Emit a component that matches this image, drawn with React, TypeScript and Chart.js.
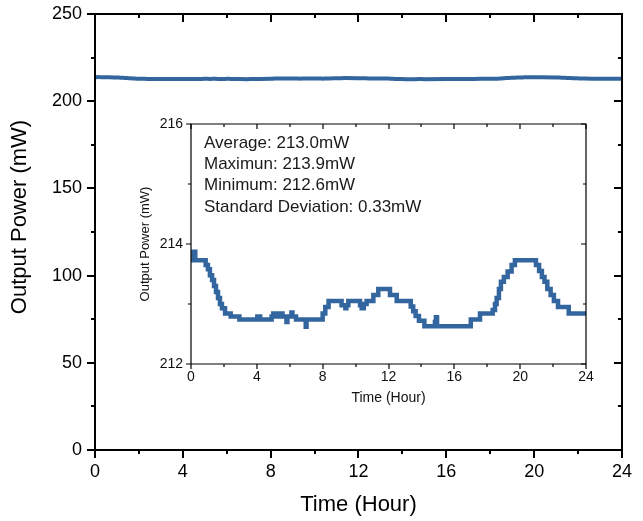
import React, { useEffect, useRef } from 'react';
import { Chart, registerables } from 'chart.js';

Chart.register(...registerables);

// Time (hours) at which each reading level starts
const hours = [
  0, 0.14, 0.26, 0.89, 1.03, 1.15, 1.28, 1.40, 1.52, 1.64,
  1.76, 1.88, 2.07, 2.41, 2.94, 4.03, 4.20, 4.90, 5.00, 5.25,
  5.50, 5.56, 5.80, 5.86, 6.10, 6.16, 6.38, 6.97, 7.02, 8.00,
  8.16, 8.36, 9.15, 9.38, 9.44, 9.56, 10.27, 10.37, 10.50, 10.67,
  11.08, 11.38, 12.09, 12.50, 13.35, 13.50, 13.65, 13.85, 14.18, 14.82,
  14.88, 14.95, 17.00, 17.56, 18.33, 18.47, 18.57, 18.71, 18.83, 19.01,
  19.24, 19.48, 19.68, 20.96, 21.15, 21.32, 21.48, 21.65, 21.85, 22.05,
  22.30, 22.95, 24,
];
// Output power (mW) for each of the hours above
const power = [
  213.73, 213.87, 213.73, 213.65, 213.58, 213.48, 213.40, 213.30, 213.20, 213.10,
  213.00, 212.93, 212.84, 212.79, 212.74, 212.79, 212.74, 212.79, 212.84, 212.79,
  212.84, 212.79, 212.70, 212.79, 212.86, 212.79, 212.74, 212.62, 212.74, 212.84,
  212.95, 213.05, 212.98, 212.93, 212.98, 213.05, 212.98, 212.93, 213.00, 213.05,
  213.15, 213.25, 213.15, 213.05, 212.96, 212.88, 212.80, 212.72, 212.63, 212.70,
  212.78, 212.63, 212.74, 212.84, 212.90, 213.00, 213.10, 213.25, 213.37, 213.45,
  213.54, 213.65, 213.73, 213.65, 213.55, 213.45, 213.37, 213.25, 213.15, 213.05,
  212.95, 212.84, 212.84,
];

const statLines = [
  'Average: 213.0mW',
  'Maximun: 213.9mW',
  'Minimum: 212.6mW',
  'Standard Deviation: 0.33mW',
];

const xTitle = 'Time (Hour)';
const yTitle = 'Output Power (mW)';

const FONT = "'Liberation Sans', Arial, sans-serif";
const LINE_COLOR = '#33659f';

const framePlugin = {
  id: 'frameTicks',
  afterDraw(chart: any, _args: any, opts: any) {
    const { ctx, chartArea: a, scales } = chart;
    const xs = scales.x;
    const ys = scales.y;
    ctx.save();
    ctx.strokeStyle = '#000';
    ctx.lineWidth = opts.lw;
    ctx.beginPath();
    ctx.rect(a.left, a.top, a.right - a.left, a.bottom - a.top);
    ctx.stroke();
    const seg = (x1: number, y1: number, x2: number, y2: number) => {
      ctx.moveTo(x1, y1);
      ctx.lineTo(x2, y2);
    };
    ctx.beginPath();
    for (let v = xs.min; v <= xs.max + 1e-9; v += opts.xMinor) {
      const major = Math.abs(v / opts.xMajor - Math.round(v / opts.xMajor)) < 1e-6;
      const len = major ? opts.major : opts.minor;
      const px = Math.round(xs.getPixelForValue(v));
      seg(px, a.bottom, px, a.bottom + len);
      seg(px, a.top, px, a.top + len);
    }
    for (let v = ys.min; v <= ys.max + 1e-9; v += opts.yMinor) {
      const major = Math.abs(v / opts.yMajor - Math.round(v / opts.yMajor)) < 1e-6;
      const len = major ? opts.major : opts.minor;
      const py = Math.round(ys.getPixelForValue(v));
      seg(a.left - len, py, a.left, py);
      seg(a.right - len, py, a.right, py);
    }
    ctx.stroke();
    if (opts.lines) {
      ctx.fillStyle = '#1a1a1a';
      ctx.font = `${opts.textSize}px ${FONT}`;
      ctx.textBaseline = 'middle';
      ctx.textAlign = 'left';
      opts.lines.forEach((t: string, i: number) => {
        ctx.fillText(t, a.left + opts.textX, a.top + opts.textY + i * opts.textGap);
      });
    }
    if (opts.yTitle) {
      ctx.save();
      ctx.fillStyle = '#000';
      ctx.font = `${opts.yTitleSize}px ${FONT}`;
      ctx.textBaseline = 'middle';
      ctx.textAlign = 'center';
      ctx.translate(opts.yTitleX, opts.yTitleY);
      ctx.rotate(-Math.PI / 2);
      ctx.fillText(opts.yTitle, 0, 0);
      ctx.restore();
    }
    ctx.restore();
  },
};

const noPadY = (w: number) => (s: any) => {
  s.width = w;
  s.paddingTop = 0;
  s.paddingBottom = 0;
};

export default function App() {
  const mainRef = useRef<HTMLCanvasElement>(null);
  const insetRef = useRef<HTMLCanvasElement>(null);

  useEffect(() => {
    const pts = hours.map((h, i) => ({ x: h, y: power[i] }));
    const main = new Chart(mainRef.current!, {
      type: 'line',
      data: {
        datasets: [
          {
            data: pts,
            borderColor: LINE_COLOR,
            borderWidth: 4,
            pointRadius: 0,
            tension: 0.3,
          },
        ],
      },
      plugins: [framePlugin],
      options: {
        animation: false,
        responsive: false,
        events: [],
        layout: { padding: { top: 14, right: 11, left: 0, bottom: 0 } },
        plugins: {
          legend: { display: false },
          tooltip: { enabled: false },
          frameTicks: {
            lw: 2, xMajor: 4, xMinor: 2, yMajor: 50, yMinor: 25, major: 8, minor: 4,
            yTitle, yTitleSize: 22, yTitleX: 20, yTitleY: 217,
          },
        } as any,
        scales: {
          x: {
            type: 'linear',
            min: 0,
            max: 24,
            grid: { display: false, drawTicks: false },
            border: { display: false },
            ticks: { stepSize: 4, padding: 11, color: '#000', font: { family: FONT, size: 18 }, maxRotation: 0 },
            title: { display: true, text: xTitle, color: '#000', font: { family: FONT, size: 22 }, padding: { top: 0, bottom: 3 } },
            afterFit: (s: any) => { s.height = 71; },
          },
          y: {
            min: 0,
            max: 250,
            grid: { display: false, drawTicks: false },
            border: { display: false },
            ticks: { stepSize: 50, padding: 13, color: '#000', font: { family: FONT, size: 18 } },
            title: { display: false },
            afterFit: noPadY(95),
          },
        },
      },
    });

    const inset = new Chart(insetRef.current!, {
      type: 'line',
      data: {
        datasets: [
          {
            data: pts,
            borderColor: LINE_COLOR,
            borderWidth: 4.5,
            pointRadius: 0,
            stepped: true,
          },
        ],
      },
      plugins: [framePlugin],
      options: {
        animation: false,
        responsive: false,
        events: [],
        layout: { padding: { top: 19, right: 14, left: 0, bottom: 0 } },
        plugins: {
          legend: { display: false },
          tooltip: { enabled: false },
          frameTicks: {
            lw: 1.2, xMajor: 4, xMinor: 2, yMajor: 2, yMinor: 1, major: 5, minor: 3,
            lines: statLines, textSize: 17, textX: 13, textY: 19, textGap: 21.3,
          },
        } as any,
        scales: {
          x: {
            type: 'linear',
            min: 0,
            max: 24,
            grid: { display: false, drawTicks: false },
            border: { display: false },
            ticks: { stepSize: 4, padding: 5, color: '#111', font: { family: FONT, size: 14 }, maxRotation: 0 },
            title: { display: true, text: xTitle, color: '#111', font: { family: FONT, size: 14 }, padding: { top: 0, bottom: 8 } },
            afterFit: (s: any) => { s.height = 51; },
          },
          y: {
            min: 212,
            max: 216,
            grid: { display: false, drawTicks: false },
            border: { display: false },
            ticks: { stepSize: 2, padding: 8, color: '#111', font: { family: FONT, size: 14 } },
            title: { display: true, text: yTitle, color: '#111', font: { family: FONT, size: 13 }, padding: { top: 18, bottom: 0 } },
            afterFit: noPadY(71),
          },
        },
      },
    });

    return () => {
      main.destroy();
      inset.destroy();
    };
  }, []);

  return (
    <div style={{ position: 'fixed', left: 0, top: 0, width: 643, height: 521, background: '#fff' }}>
      <canvas ref={mainRef} width={643} height={521} style={{ position: 'absolute', left: 0, top: 0 }} />
      <canvas ref={insetRef} width={480} height={310} style={{ position: 'absolute', left: 120, top: 105 }} />
    </div>
  );
}
